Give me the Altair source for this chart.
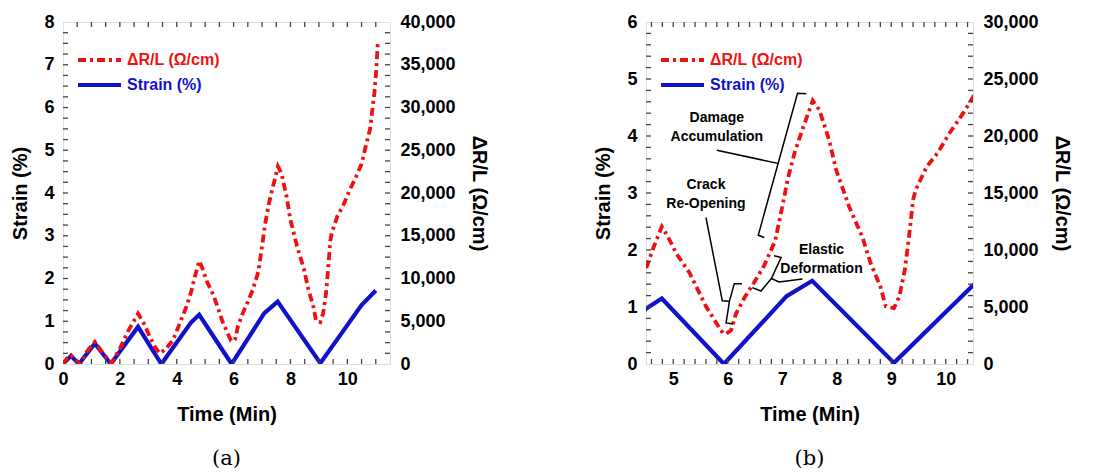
import altair as alt
import pandas as pd

# ---------------------------------------------------------------- data
# Strain (%) applied during the cyclic test, vertices of the loading ramps
strain_time = [0, 0.28, 0.56, 1.12, 1.68, 2.64, 3.46, 4.5, 4.79, 5.93, 7.08, 7.55, 9.05, 10.5, 11.0]
strain_pct = [0, 0.19, 0, 0.48, 0, 0.87, 0, 0.97, 1.15, 0, 1.19, 1.46, 0.02, 1.38, 1.72]

# Resistance change per length, ΔR/L (Ω/cm)
res_time = [0, 0.15, 0.28, 0.45, 0.6, 0.85, 1.12, 1.4, 1.7, 2.0, 2.3, 2.64, 2.85, 3.05,
            3.25, 3.4, 3.6, 3.87, 4.1, 4.34, 4.5, 4.62, 4.79, 4.9, 5.05, 5.3, 5.42, 5.6,
            5.79, 5.91, 5.97, 6.06, 6.15, 6.31, 6.49, 6.67, 6.87, 7.01, 7.1, 7.23, 7.38,
            7.56, 7.68, 7.86, 7.99, 8.23, 8.47, 8.62, 8.8, 8.9, 9.05, 9.15, 9.25, 9.34,
            9.4, 9.45, 9.65, 9.85, 10.07, 10.32, 10.5, 10.65, 10.8, 10.95, 11.02, 11.07]
res_ohm = [0, 700, 1050, 400, 0, 1500, 2600, 1300, 100, 1800, 3900, 5900, 4700, 3200,
           1900, 1250, 1700, 2800, 4700, 6700, 8350, 10000, 12050, 11200, 9740, 7980, 6810, 5060,
           3600, 2720, 2650, 2950, 4400, 5850, 7200, 8650, 10800, 14000, 16200, 18600, 20700,
           23100, 22300, 19650, 17000, 13770, 11140, 8860, 6800, 5060, 4900, 5940, 8270, 11750,
           14400, 15300, 17300, 18500, 20260, 22000, 23400, 25500, 27500, 31700, 34500, 37500]

legend_labels = ["ΔR/L (Ω/cm)", "Strain (%)"]
line_colors = ["#ee1111", "#1111cc"]

# Annotation labels for the zoomed panel (time, strain)
note_text = ["Damage", "Accumulation", "Crack", "Re-Opening", "Elastic", "Deformation"]
note_t = [5.8, 5.8, 5.6, 5.6, 7.72, 7.72]
note_s = [4.32, 3.98, 3.14, 2.81, 2.0, 1.67]

# Bracket / leader polylines for the annotations (time, strain)
bracket_group = ["dmg"] * 4 + ["dmg_lead"] * 2 + ["crk"] * 5 + ["crk_lead"] * 3 + ["ela"] * 5 + ["ela_lead"] * 3
bracket_t = [7.44, 7.28, 6.56, 6.67, 5.8, 6.92,
             6.26, 6.12, 6.03, 5.97, 6.10, 5.60, 5.90, 6.03,
             6.85, 6.98, 6.80, 6.61, 6.45, 6.80, 6.94, 7.37]
bracket_s = [4.74, 4.75, 2.26, 2.22, 3.75, 3.52,
             1.41, 1.41, 1.10, 0.72, 0.70, 2.57, 1.11, 1.10,
             1.90, 1.87, 1.50, 1.28, 1.34, 1.50, 1.44, 1.49]

captions = ["(a)", "(b)"]

# ---------------------------------------------------------------- styling
FONT = "Liberation Sans"
FRAME = "#444444"
TICK = 5
RED_DASH = [8, 4, 3, 4]
W, H = 327, 342

strain_df = pd.DataFrame({"t": strain_time, "s": strain_pct})
res_df = pd.DataFrame({"t": res_time, "r": res_ohm})
note_df = pd.DataFrame({"t": note_t, "s": note_s, "label": note_text})
bracket_df = pd.DataFrame({"t": bracket_t, "s": bracket_s, "g": bracket_group})
bracket_df["o"] = range(len(bracket_df))
legend_df = pd.DataFrame({"label": legend_labels, "row": list(range(len(legend_labels)))})

series_color = alt.Color("label:N", scale=alt.Scale(domain=legend_labels, range=line_colors), legend=None)
series_dash = alt.StrokeDash("label:N", scale=alt.Scale(domain=legend_labels, range=[RED_DASH, [1, 0]]),
                             legend=None)
# key rows sit 25 px apart near the top-left corner of each frame
legend_row = alt.Y("row:Q", axis=None, scale=alt.Scale(domain=[0, 1], range=[38, 63]))


def steps(lo, hi, step):
    n = int(round((hi - lo) / step))
    return [round(lo + i * step, 4) for i in range(n + 1)]


def label_axis(orient, values, title, fmt, label_pad, title_pad):
    # labels only; the tick marks are drawn as rule layers inside the frame
    return alt.Axis(
        orient=orient, values=values, format=fmt, ticks=False, domain=False, grid=False,
        labelFlush=False, labelPadding=label_pad,
        labelFont=FONT, labelFontSize=18, labelFontWeight="bold", labelColor="black",
        title=title, titleFont=FONT, titleFontSize=20, titleFontWeight="bold",
        titleColor="black", titlePadding=title_pad,
    )


def panel(x_dom, x_step, x_major, s_dom, s_step, r_dom, caption, notes=False):
    xs = alt.Scale(domain=x_dom, nice=False, zero=False)
    ss = alt.Scale(domain=s_dom, nice=False)
    rs = alt.Scale(domain=r_dom, nice=False)

    x_major_vals = [v for v in steps(0, 12, x_major) if x_dom[0] <= v <= x_dom[1]]
    s_major_vals = steps(s_dom[0], s_dom[1], 1)
    r_major_vals = steps(r_dom[0], r_dom[1], 5000)

    # one shared time axis: every layer that encodes time carries the same definition
    x_axis = label_axis("bottom", x_major_vals, "Time (Min)", "d", 6, 16)

    def tx():
        return alt.X("t:Q", scale=xs, axis=x_axis)

    x_tick_df = pd.DataFrame({"t": [v for v in steps(0, 12, x_step) if x_dom[0] < v < x_dom[1]]})
    s_tick_df = pd.DataFrame({"s": [v for v in steps(s_dom[0], s_dom[1], s_step) if s_dom[0] < v < s_dom[1]]})

    strain = alt.Chart(strain_df).mark_line(
        color=line_colors[1], strokeWidth=4.2, clip=True
    ).encode(
        x=tx(),
        y=alt.Y("s:Q", scale=ss, axis=label_axis("left", s_major_vals, "Strain (%)", "d", 9, 13)),
        order="t:Q",
    )
    res = alt.Chart(res_df).mark_line(
        color=line_colors[0], strokeWidth=3.8, strokeDash=RED_DASH, clip=True
    ).encode(
        x=tx(),
        y=alt.Y("r:Q", scale=rs, axis=label_axis("right", r_major_vals, "ΔR/L (Ω/cm)", ",d", 10, 13)),
        order="t:Q",
    )

    # inward tick marks on all four sides of the frame
    tick_style = dict(color=FRAME, strokeWidth=1.3)
    x_ticks_bottom = alt.Chart(x_tick_df).mark_rule(**tick_style).encode(
        x=tx(), y=alt.value(H - TICK), y2=alt.value(H))
    x_ticks_top = alt.Chart(x_tick_df).mark_rule(**tick_style).encode(
        x=tx(), y=alt.value(0), y2=alt.value(TICK))
    y_ticks_left = alt.Chart(s_tick_df).mark_rule(**tick_style).encode(
        y=alt.Y("s:Q", scale=ss, axis=None), x=alt.value(0), x2=alt.value(TICK))
    y_ticks_right = alt.Chart(s_tick_df).mark_rule(**tick_style).encode(
        y=alt.Y("s:Q", scale=ss, axis=None), x=alt.value(W - TICK), x2=alt.value(W))

    # in-plot key: line sample plus coloured label for each series
    key_lines = alt.Chart(legend_df).mark_rule(strokeWidth=4).encode(
        x=alt.value(15), x2=alt.value(58), y=legend_row, color=series_color, strokeDash=series_dash)
    key_text = alt.Chart(legend_df).mark_text(
        font=FONT, fontSize=16, fontWeight="bold", align="left", baseline="middle"
    ).encode(x=alt.value(64), y=legend_row, text="label:N", color=series_color)

    layers = [strain, res, x_ticks_bottom, x_ticks_top, y_ticks_left, y_ticks_right, key_lines, key_text]
    if notes:
        lines = alt.Chart(bracket_df).mark_line(color="black", strokeWidth=1.5).encode(
            x=tx(),
            y=alt.Y("s:Q", scale=ss, axis=None),
            detail="g:N",
            order="o:Q",
        )
        texts = alt.Chart(note_df).mark_text(
            font=FONT, fontSize=14, fontWeight="bold", color="black"
        ).encode(
            x=tx(),
            y=alt.Y("s:Q", scale=ss, axis=None),
            text="label:N",
        )
        layers += [lines, texts]

    return alt.layer(*layers).resolve_scale(y="independent").properties(
        width=W, height=H,
        title=alt.TitleParams(caption, orient="bottom", font="DejaVu Serif", fontSize=21,
                              fontWeight="normal", color="black", offset=24),
    )


left = panel([0, 11.5], 0.5, 2, [0, 8], 0.25, [0, 40000], captions[0])
right = panel([4.5, 10.5], 0.2, 1, [0, 6], 0.2, [0, 30000], captions[1], notes=True)

chart = alt.hconcat(left, right, spacing=104).properties(
    padding={"left": 10, "top": 12, "right": 5, "bottom": 5}
).configure_view(stroke=FRAME, strokeWidth=1.5).configure(background="white")

chart.save("out.html", embed_options={"renderer": "svg", "actions": False})
